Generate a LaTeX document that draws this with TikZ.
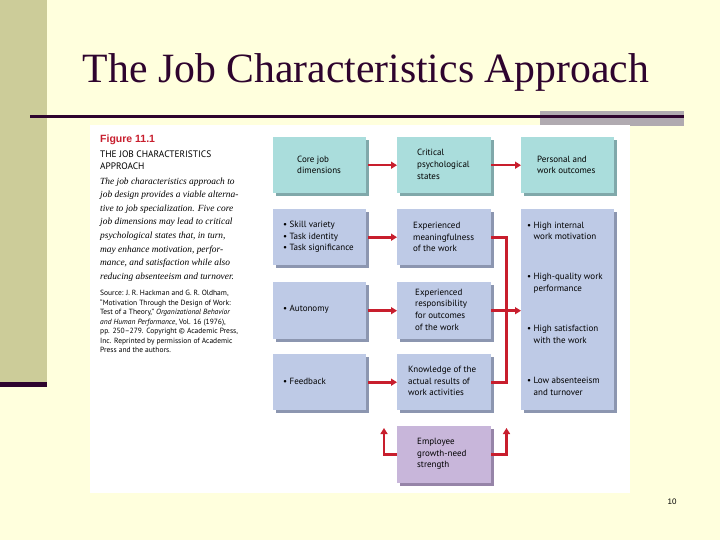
\documentclass[tikz,border=0pt]{standalone}
\usepackage{fontspec}
\setmainfont{Liberation Serif}
\newfontfamily\boxfont{PT Sans}
\newfontfamily\arialf{Liberation Sans}
\usetikzlibrary{arrows.meta,calc}
\definecolor{bgc}{RGB}{255,255,221}
\definecolor{barc}{RGB}{204,204,153}
\definecolor{darkp}{RGB}{46,4,46}
\definecolor{greyr}{RGB}{176,170,176}
\definecolor{tealf}{RGB}{170,221,220}
\definecolor{teals}{RGB}{128,168,170}
\definecolor{bluef}{RGB}{190,202,230}
\definecolor{blues}{RGB}{140,150,176}
\definecolor{purpf}{RGB}{200,182,218}
\definecolor{purps}{RGB}{150,132,168}
\definecolor{redc}{RGB}{200,30,45}
\tikzset{
  box/.style={anchor=north west, inner sep=0pt, draw=none},
  tealbox/.style={box, fill=tealf, preaction={fill=teals, transform canvas={shift={(3pt,-3pt)}}}},
  bluebox/.style={box, fill=bluef, preaction={fill=blues, transform canvas={shift={(3pt,-3pt)}}}},
  purpbox/.style={box, fill=purpf, preaction={fill=purps, transform canvas={shift={(3pt,-3pt)}}}},
  btext/.style={anchor=west, align=left, inner sep=0pt, font=\boxfont\fontsize{9}{11.7}\selectfont},
  redline/.style={draw=redc, line width=2.6pt},
  arr/.style={redline, -{Triangle[length=6pt,width=7pt]}},
}
\newcommand{\bul}{\textbullet\ }
\newcommand{\hb}{\hphantom{\textbullet\ }}
\begin{document}
\begin{tikzpicture}[x=1pt,y=-1pt]
\useasboundingbox (0,0) rectangle (720,540);
\fill[bgc] (0,0) rectangle (720,540);
% left bar
\fill[barc] (0,0) rectangle (47,382);
\fill[darkp] (0,382) rectangle (47,387);
% title
\node[anchor=base, inner sep=0pt, text=darkp, font=\fontsize{41.7}{50}\selectfont] (title) at (366,83) {The Job Characteristics Approach};
% rule
\fill[greyr] (540,111) rectangle (684,126);
\fill[darkp] (30,114.8) rectangle (684,118.3);
% white figure area
\fill[white] (90,125) rectangle (630,493);
% left column text
\node[anchor=west, inner sep=0pt, text=redc, font=\arialf\bfseries\fontsize{10.5}{11}\selectfont] (fig) at (100,140) {Figure 11.1};
\node[anchor=west, align=left, inner sep=0pt, font=\boxfont\fontsize{9.4}{12}\selectfont] (fhead) at (100,160) {THE JOB CHARACTERISTICS\\APPROACH};
\node[anchor=west, align=left, inner sep=0pt, font=\itshape\fontsize{9.4}{13.6}\selectfont] (fpar) at (100,229.5) {The job characteristics approach to\\job design provides a viable alterna-\\tive to job specialization. Five core\\job dimensions may lead to critical\\psychological states that, in turn,\\may enhance motivation, perfor-\\mance, and satisfaction while also\\reducing absenteeism and turnover.};
\node[anchor=west, align=left, inner sep=0pt, font=\boxfont\fontsize{7.5}{9.5}\selectfont] (fsrc) at (100,321.5) {Source: J. R. Hackman and G. R. Oldham,\\“Motivation Through the Design of Work:\\Test of a Theory,” \textit{Organizational Behavior}\\\textit{and Human Performance}, Vol. 16 (1976),\\pp. 250–279. Copyright \textcopyright{} Academic Press,\\Inc. Reprinted by permission of Academic\\Press and the authors.};
% boxes
\node[tealbox, minimum width=93pt, minimum height=56pt] (b11) at (273,137) {};
\node[tealbox, minimum width=94pt, minimum height=56pt] (b12) at (397,137) {};
\node[tealbox, minimum width=93pt, minimum height=56pt] (b13) at (521,137) {};
\node[bluebox, minimum width=93pt, minimum height=56pt] (b21) at (273,209) {};
\node[bluebox, minimum width=94pt, minimum height=56pt] (b22) at (397,209) {};
\node[bluebox, minimum width=93pt, minimum height=201pt] (bout) at (521,209) {};
\node[bluebox, minimum width=93pt, minimum height=57pt] (b31) at (273,282) {};
\node[bluebox, minimum width=94pt, minimum height=57pt] (b32) at (397,282) {};
\node[bluebox, minimum width=93pt, minimum height=56pt] (b41) at (273,354) {};
\node[bluebox, minimum width=94pt, minimum height=56pt] (b42) at (397,354) {};
\node[purpbox, minimum width=94pt, minimum height=57pt] (pg) at (397,426) {};
% box texts
\node[btext] (t11) at (297,165) {Core job\\dimensions};
\node[btext] (t12) at (417,164.5) {Critical\\psychological\\states};
\node[btext] (t13) at (537,165) {Personal and\\work outcomes};
\node[btext] (t21) at (283,237) {\bul Skill variety\\\bul Task identity\\\bul Task significance};
\node[btext] (t22) at (413,237) {Experienced\\meaningfulness\\of the work};
\node[btext] (o1) at (527,231) {\bul High internal\\\hb work motivation};
\node[btext] (o2) at (527,283) {\bul High-quality work\\\hb performance};
\node[btext] (o3) at (527,334.5) {\bul High satisfaction\\\hb with the work};
\node[btext] (o4) at (527,386.5) {\bul Low absenteeism\\\hb and turnover};
\node[btext] (t31) at (283,309) {\bul Autonomy};
\node[btext] (t32) at (415,309.5) {Experienced\\responsibility\\for outcomes\\of the work};
\node[btext] (t41) at (283,381) {\bul Feedback};
\node[btext] (t42) at (408,381) {Knowledge of the\\actual results of\\work activities};
\node[btext] (tp) at (417,454) {Employee\\growth-need\\strength};
% page number
\node[inner sep=0pt, font=\arialf\fontsize{8}{10}\selectfont] (pnum) at (672,502) {10};
% connectors
\coordinate (jx) at (506.5,0);
\coordinate (gl) at (384,428);
\coordinate (gr) at (506.5,428);
\draw[arr] ($(b11.east)+(2,0)$) -- (b12.west);
\draw[arr] (b12.east) -- (b13.west);
\draw[arr] ($(b21.east)+(2,0)$) -- (b22.west);
\draw[arr] ($(b31.east)+(2,0)$) -- (b32.west);
\draw[arr] ($(b41.east)+(2,0)$) -- (b42.west);
\draw[redline] (b22.east) -| (jx |- b42.east) -- (b42.east);
\draw[arr] (b32.east) -- (b32.east -| bout.west);
\draw[arr] (pg.west) -| (gl);
\draw[arr] (pg.east) -| (gr);
\end{tikzpicture}
\end{document}
